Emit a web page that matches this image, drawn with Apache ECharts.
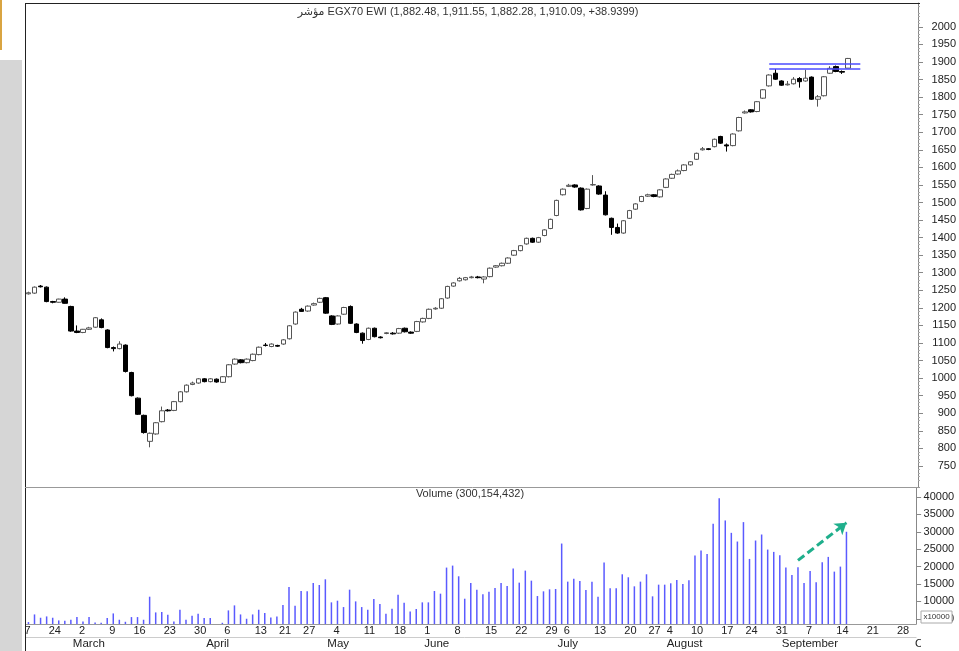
<!DOCTYPE html>
<html><head><meta charset="utf-8">
<script src="https://cdn.jsdelivr.net/npm/echarts@6/dist/echarts.min.js"></script>
<style>html,body{margin:0;padding:0;background:#fff}#c{width:959px;height:651px}</style>
</head><body><div id="c"></div>
<script>
// ---- categories: trading days (two leading days scrolled off the left edge, future days at right)
const dates = [
'2020-02-17','2020-02-18',
'2020-02-19','2020-02-20','2020-02-23',
'2020-02-24','2020-02-25','2020-02-26','2020-02-27','2020-03-01',
'2020-03-02','2020-03-03','2020-03-04','2020-03-05','2020-03-08',
'2020-03-09','2020-03-10','2020-03-11','2020-03-15',
'2020-03-16','2020-03-17','2020-03-18','2020-03-19','2020-03-22',
'2020-03-23','2020-03-24','2020-03-25','2020-03-26','2020-03-29',
'2020-03-30','2020-03-31','2020-04-01','2020-04-02','2020-04-05',
'2020-04-06','2020-04-07','2020-04-08','2020-04-09','2020-04-12',
'2020-04-13','2020-04-14','2020-04-15','2020-04-16',
'2020-04-21','2020-04-22','2020-04-23','2020-04-26',
'2020-04-27','2020-04-28','2020-04-29','2020-04-30','2020-05-03',
'2020-05-04','2020-05-05','2020-05-06','2020-05-07','2020-05-10',
'2020-05-11','2020-05-12','2020-05-13','2020-05-14','2020-05-17',
'2020-05-18','2020-05-19','2020-05-20','2020-05-21','2020-05-31',
'2020-06-01','2020-06-02','2020-06-03','2020-06-04','2020-06-07',
'2020-06-08','2020-06-09','2020-06-10','2020-06-11','2020-06-14',
'2020-06-15','2020-06-16','2020-06-17','2020-06-18','2020-06-21',
'2020-06-22','2020-06-23','2020-06-24','2020-06-25','2020-06-28',
'2020-06-29','2020-06-30','2020-07-01',
'2020-07-06','2020-07-07','2020-07-08','2020-07-09','2020-07-12',
'2020-07-13','2020-07-14','2020-07-15','2020-07-16','2020-07-19',
'2020-07-20','2020-07-21','2020-07-22','2020-07-26',
'2020-07-27','2020-07-28','2020-07-29',
'2020-08-04','2020-08-05','2020-08-06','2020-08-09',
'2020-08-10','2020-08-11','2020-08-12','2020-08-13','2020-08-16',
'2020-08-17','2020-08-18','2020-08-19','2020-08-23',
'2020-08-24','2020-08-25','2020-08-26','2020-08-27','2020-08-30',
'2020-08-31','2020-09-01','2020-09-02','2020-09-03','2020-09-06',
'2020-09-07','2020-09-08','2020-09-09','2020-09-10','2020-09-13',
'2020-09-14','2020-09-15','2020-09-16',
'2020-09-17','2020-09-20','2020-09-21','2020-09-22','2020-09-23','2020-09-24','2020-09-27',
'2020-09-28','2020-09-29','2020-09-30','2020-10-01'
];
const firstDataDate = '2020-02-19';

// ---- OHLC from 2020-02-19 onward
const open = [1240,1242,1262,1259,1218,1216,1225,1204,1134,1130,1139,1145,1166,1137,1087,1084,1094,1016,943,894,
820,841,876,909,908,933,961,982,986,998,990,997,988,1004,1040,1052,1044,1050,1067,1094,
1090,1093,1097,1112,1154,1196,1191,1208,1216,1229,1177,1154,1182,1204,1154,1128,1110,1142,1117,1127,
1128,1128,1142,1131,1133,1160,1170,1197,1199,1228,1262,1277,1280,1286,1288,1282,1289,1316,1320,1327,
1350,1363,1382,1398,1387,1406,1426,1463,1522,1546,1550,1541,1483,1550,1547,1521,1455,1429,1413,1455,
1481,1503,1518,1522,1516,1543,1569,1581,1591,1607,1623,1650,1653,1659,1688,1664,1662,1704,1755,1764,
1759,1797,1832,1868,1846,1835,1838,1853,1846,1857,1794,1804,1868,1887,1873,1882.48];
const high = [1246,1261,1265,1261,1220,1226,1230,1206,1150,1140,1146,1174,1170,1139,1090,1105,1096,1018,945,896,
845,875,919,912,935,963,982,990,1000,1000,1000,999,1006,1040,1056,1054,1056,1070,1090,1100,
1099,1095,1111,1151,1190,1200,1207,1215,1229,1231,1179,1179,1203,1207,1156,1130,1144,1144,1119,1131,
1131,1143,1144,1133,1163,1172,1198,1202,1228,1263,1273,1288,1288,1291,1291,1290,1315,1322,1329,1344,
1365,1379,1400,1400,1402,1424,1454,1508,1540,1553,1552,1543,1540,1578,1549,1532,1457,1440,1450,1479,
1498,1519,1525,1524,1538,1569,1582,1594,1609,1618,1642,1658,1655,1682,1690,1668,1697,1744,1762,1766,
1789,1823,1865,1880,1848,1846,1857,1857,1878,1859,1806,1860,1888,1890,1876,1911.55];
const low = [1238,1240,1258,1216,1213,1215,1212,1132,1128,1128,1137,1143,1142,1085,1076,1082,1016,948,895,842,
803,839,874,905,906,931,959,980,984,988,988,987,986,1002,1038,1042,1042,1048,1065,1090,
1088,1089,1095,1110,1152,1189,1189,1206,1214,1183,1151,1152,1180,1154,1128,1098,1108,1116,1113,1125,
1124,1126,1130,1126,1131,1158,1168,1195,1197,1226,1260,1275,1278,1284,1284,1270,1287,1314,1318,1325,
1348,1361,1380,1385,1385,1404,1424,1461,1520,1544,1542,1477,1481,1548,1522,1463,1408,1411,1411,1453,
1479,1501,1516,1515,1514,1541,1567,1579,1589,1605,1621,1648,1649,1657,1667,1645,1660,1702,1753,1756,
1757,1795,1830,1849,1832,1833,1836,1827,1844,1792,1773,1802,1866,1871,1866,1882.28];
const close = [1243,1259,1260,1218,1216,1225,1213,1134,1130,1139,1143,1172,1144,1087,1084,1097,1019,950,897,845,
843,873,907,907,933,961,980,986,998,990,998,989,1004,1038,1054,1044,1054,1068,1088,1093,
1097,1091,1109,1149,1188,1190,1205,1212,1227,1185,1153,1177,1201,1156,1130,1107,1142,1118,1115,1129,
1126,1141,1132,1128,1161,1170,1196,1199,1226,1261,1271,1284,1286,1288,1286,1288,1313,1320,1327,1342,
1363,1377,1398,1387,1400,1422,1452,1506,1538,1549,1544,1479,1538,1551,1524,1465,1429,1413,1448,1477,
1496,1517,1522,1517,1536,1567,1580,1590,1607,1616,1640,1653,1651,1680,1669,1661,1695,1742,1758,1758,
1787,1821,1863,1851,1834,1837,1851,1844,1854,1794,1801,1858,1882,1873,1871.15,1910.09];

// ---- volume, in units of 10,000 shares
const volume = [4050,6250,5300,5680,5300,4530,4430,4720,5490,4240,5490,3950,3850,5200,6540,4720,4140,5490,5490,4720,
11350,6830,6930,6160,4240,7600,4720,5870,6450,5200,5200,3500,3850,7410,8850,6250,5010,6250,7600,6640,
5390,5680,8950,14140,8750,12990,12890,15290,14720,16350,9720,10200,8370,13370,10000,8370,7600,10680,9240,6450,
7890,11930,9620,7120,7790,9720,9720,12990,12220,19720,20290,17220,10770,15290,13370,12020,12790,13850,15290,14430,
19430,15390,18850,15960,11540,12890,13470,13560,26630,15680,16540,15870,13270,15680,11350,21150,13750,13750,17790,16930,
14330,15680,17790,11450,14810,14810,15200,16150,15000,16060,23170,24620,23660,32310,39620,33270,29710,27210,32790,22210,
27500,29230,24900,24230,23270,19720,17600,19810,15290,18750,15480,21250,22790,18560,20000,30015];

// ---- tick labels
const priceTicks = [750,800,850,900,950,1000,1050,1100,1150,1200,1250,1300,1350,1400,1450,1500,1550,1600,1650,1700,1750,1800,1850,1900,1950,2000];
const volTicks = [5000,10000,15000,20000,25000,30000,35000,40000];
const weekStarts = ['2020-02-17','2020-02-24','2020-03-02','2020-03-09','2020-03-16','2020-03-23','2020-03-30',
'2020-04-06','2020-04-13','2020-04-21','2020-04-27','2020-05-04','2020-05-11','2020-05-18','2020-06-01',
'2020-06-08','2020-06-15','2020-06-22','2020-06-29','2020-07-06','2020-07-13','2020-07-20','2020-07-27',
'2020-08-04','2020-08-10','2020-08-17','2020-08-24','2020-08-31','2020-09-07','2020-09-14','2020-09-21','2020-09-28'];
const monthStarts = ['2020-03-01','2020-04-01','2020-05-03','2020-06-01','2020-07-01','2020-08-04','2020-09-01','2020-10-01'];
const monthNames = ['March','April','May','June','July','August','September','October'];

// ---- annotations
const titleText = 'مؤشر EGX70 EWI (1,882.48, 1,911.55, 1,882.28, 1,910.09, +38.9399)';
const volumeText = 'Volume (300,154,432)';
const resistanceLevels = [1895, 1880];
const resistanceFrom = '2020-08-30', resistanceTo = '2020-09-20';
const arrowFrom = ['2020-09-06', 21800], arrowTo = ['2020-09-16', 32600];

// ---- build series data
const start = dates.indexOf(firstDataDate);
const candles = dates.map((d, k) => {
  const i = k - start;
  return (i >= 0 && i < open.length) ? [open[i], close[i], low[i], high[i]] : '-';
});
const vols = dates.map((d, k) => {
  const i = k - start;
  return (i >= 0 && i < volume.length) ? volume[i] : '-';
});
const weekSet = new Set(weekStarts);
const monthMap = {};
monthStarts.forEach((d, j) => monthMap[d] = monthNames[j]);
const minorTicks = [];
for (let v = 700; v <= 2060; v += 10) if (v % 50) minorTicks.push(v);

const FONT = '"Liberation Sans", Arial, "DejaVu Sans", sans-serif';
const chart = echarts.init(document.getElementById('c'));
const gridL = 13.3, gridR = 39;
chart.setOption({
  animation: false,
  backgroundColor: '#fff',
  grid: [
    {left: gridL, right: gridR, top: 3, height: 484},
    {left: gridL, right: gridR, top: 488, height: 136}
  ],
  xAxis: [
    {type: 'category', gridIndex: 0, position: 'bottom', data: dates, show: false},
    {type: 'category', gridIndex: 1, position: 'bottom', data: dates,
      axisLine: {lineStyle: {color: '#999', width: 1}},
      axisTick: {alignWithLabel: true, length: 13, interval: (i, v) => weekSet.has(v), lineStyle: {color: '#999'}},
      axisLabel: {interval: (i, v) => weekSet.has(v), formatter: v => String(+v.slice(8)), align: 'left',
        margin: 1, padding: [0, 0, 0, 2], fontSize: 11, color: '#222', fontFamily: FONT}},
    {type: 'category', gridIndex: 1, position: 'bottom', offset: 0, data: dates,
      axisLine: {show: false},
      axisTick: {alignWithLabel: true, length: 27, interval: (i, v) => v in monthMap, lineStyle: {color: '#999'}},
      axisLabel: {interval: (i, v) => v in monthMap, formatter: v => monthMap[v] || '', align: 'left',
        margin: 14, padding: [0, 0, 0, 2], fontSize: 11.5, color: '#222', fontFamily: FONT}},
    {type: 'category', gridIndex: 1, position: 'bottom', data: dates, offset: 13,
      axisLine: {lineStyle: {color: '#ccc'}}, axisTick: {show: false}, axisLabel: {show: false}}
  ],
  yAxis: [
    {type: 'value', gridIndex: 0, position: 'right', min: 690, max: 2068, splitLine: {show: false},
      axisLine: {show: true, lineStyle: {color: '#888'}},
      axisTick: {show: true, customValues: priceTicks, length: 5, lineStyle: {color: '#888'}},
      axisLabel: {customValues: priceTicks, formatter: v => String(v), align: 'right', margin: 38, fontSize: 11, color: '#222', fontFamily: FONT}},
    {type: 'value', gridIndex: 0, position: 'right', min: 690, max: 2068, splitLine: {show: false},
      axisLine: {show: false},
      axisTick: {show: true, customValues: minorTicks, length: 2, lineStyle: {color: '#aaa'}},
      axisLabel: {show: false}},
    {type: 'value', gridIndex: 1, position: 'right', min: 3500, max: 42600, splitLine: {show: false},
      axisLine: {show: true, lineStyle: {color: '#888'}},
      axisTick: {show: true, customValues: volTicks, length: 5, lineStyle: {color: '#888'}},
      axisLabel: {customValues: volTicks, formatter: v => String(v), align: 'right', margin: 38, fontSize: 11, color: '#222', fontFamily: FONT}}
  ],
  series: [
    {type: 'candlestick', xAxisIndex: 0, yAxisIndex: 0, data: candles, barWidth: 5,
      itemStyle: {color: '#fff', color0: '#000', borderColor: '#555', borderColor0: '#000', borderWidth: 1},
      markLine: {silent: true, symbol: ['none', 'none'], label: {show: false},
        lineStyle: {color: '#4b4bff', width: 1.6, type: 'solid'},
        data: resistanceLevels.map(v => [{coord: [resistanceFrom, v]}, {coord: [resistanceTo, v]}])}},
    {type: 'bar', xAxisIndex: 1, yAxisIndex: 2, data: vols, barWidth: 1.5,
      itemStyle: {color: '#5a5aff'},
      markLine: {silent: true, symbol: ['none', 'arrow'], symbolSize: 11, label: {show: false},
        lineStyle: {color: '#1faf8c', width: 3, type: [8, 4]},
        data: [[{coord: arrowFrom}, {coord: arrowTo}]]}}
  ],
  graphic: [
    {type: 'rect', z: 100, shape: {x: 0, y: 0, width: 25, height: 651}, style: {fill: '#fff'}},
    {type: 'rect', z: 101, shape: {x: 0, y: 60, width: 22, height: 591}, style: {fill: '#d6d6d6'}},
    {type: 'rect', z: 101, shape: {x: 0, y: 0, width: 2, height: 50}, style: {fill: '#d9a441'}},
    {type: 'rect', z: 100, shape: {x: 921, y: 625, width: 38, height: 26}, style: {fill: '#fff'}},
    {type: 'line', z: 102, shape: {x1: 25.5, y1: 3, x2: 25.5, y2: 651}, style: {stroke: '#222', lineWidth: 1}},
    {type: 'line', z: 102, shape: {x1: 25, y1: 3.5, x2: 920, y2: 3.5}, style: {stroke: '#222', lineWidth: 1}},
    {type: 'line', z: 102, shape: {x1: 25, y1: 487.5, x2: 920, y2: 487.5}, style: {stroke: '#999', lineWidth: 1}},
    {type: 'text', z: 102, x: 468, y: 12, style: {text: titleText, font: '11px ' + FONT, fill: '#333', textAlign: 'center', textVerticalAlign: 'middle'}},
    {type: 'text', z: 102, x: 470, y: 494, style: {text: volumeText, font: '11px ' + FONT, fill: '#333', textAlign: 'center', textVerticalAlign: 'middle'}},
    {type: 'rect', z: 103, shape: {x: 921, y: 611, width: 31, height: 12}, style: {fill: '#fff', stroke: '#aaa', lineWidth: 1}},
    {type: 'text', z: 104, x: 936.5, y: 617, style: {text: 'x10000', font: '8px ' + FONT, fill: '#333', textAlign: 'center', textVerticalAlign: 'middle'}}
  ]
});
</script></body></html>
